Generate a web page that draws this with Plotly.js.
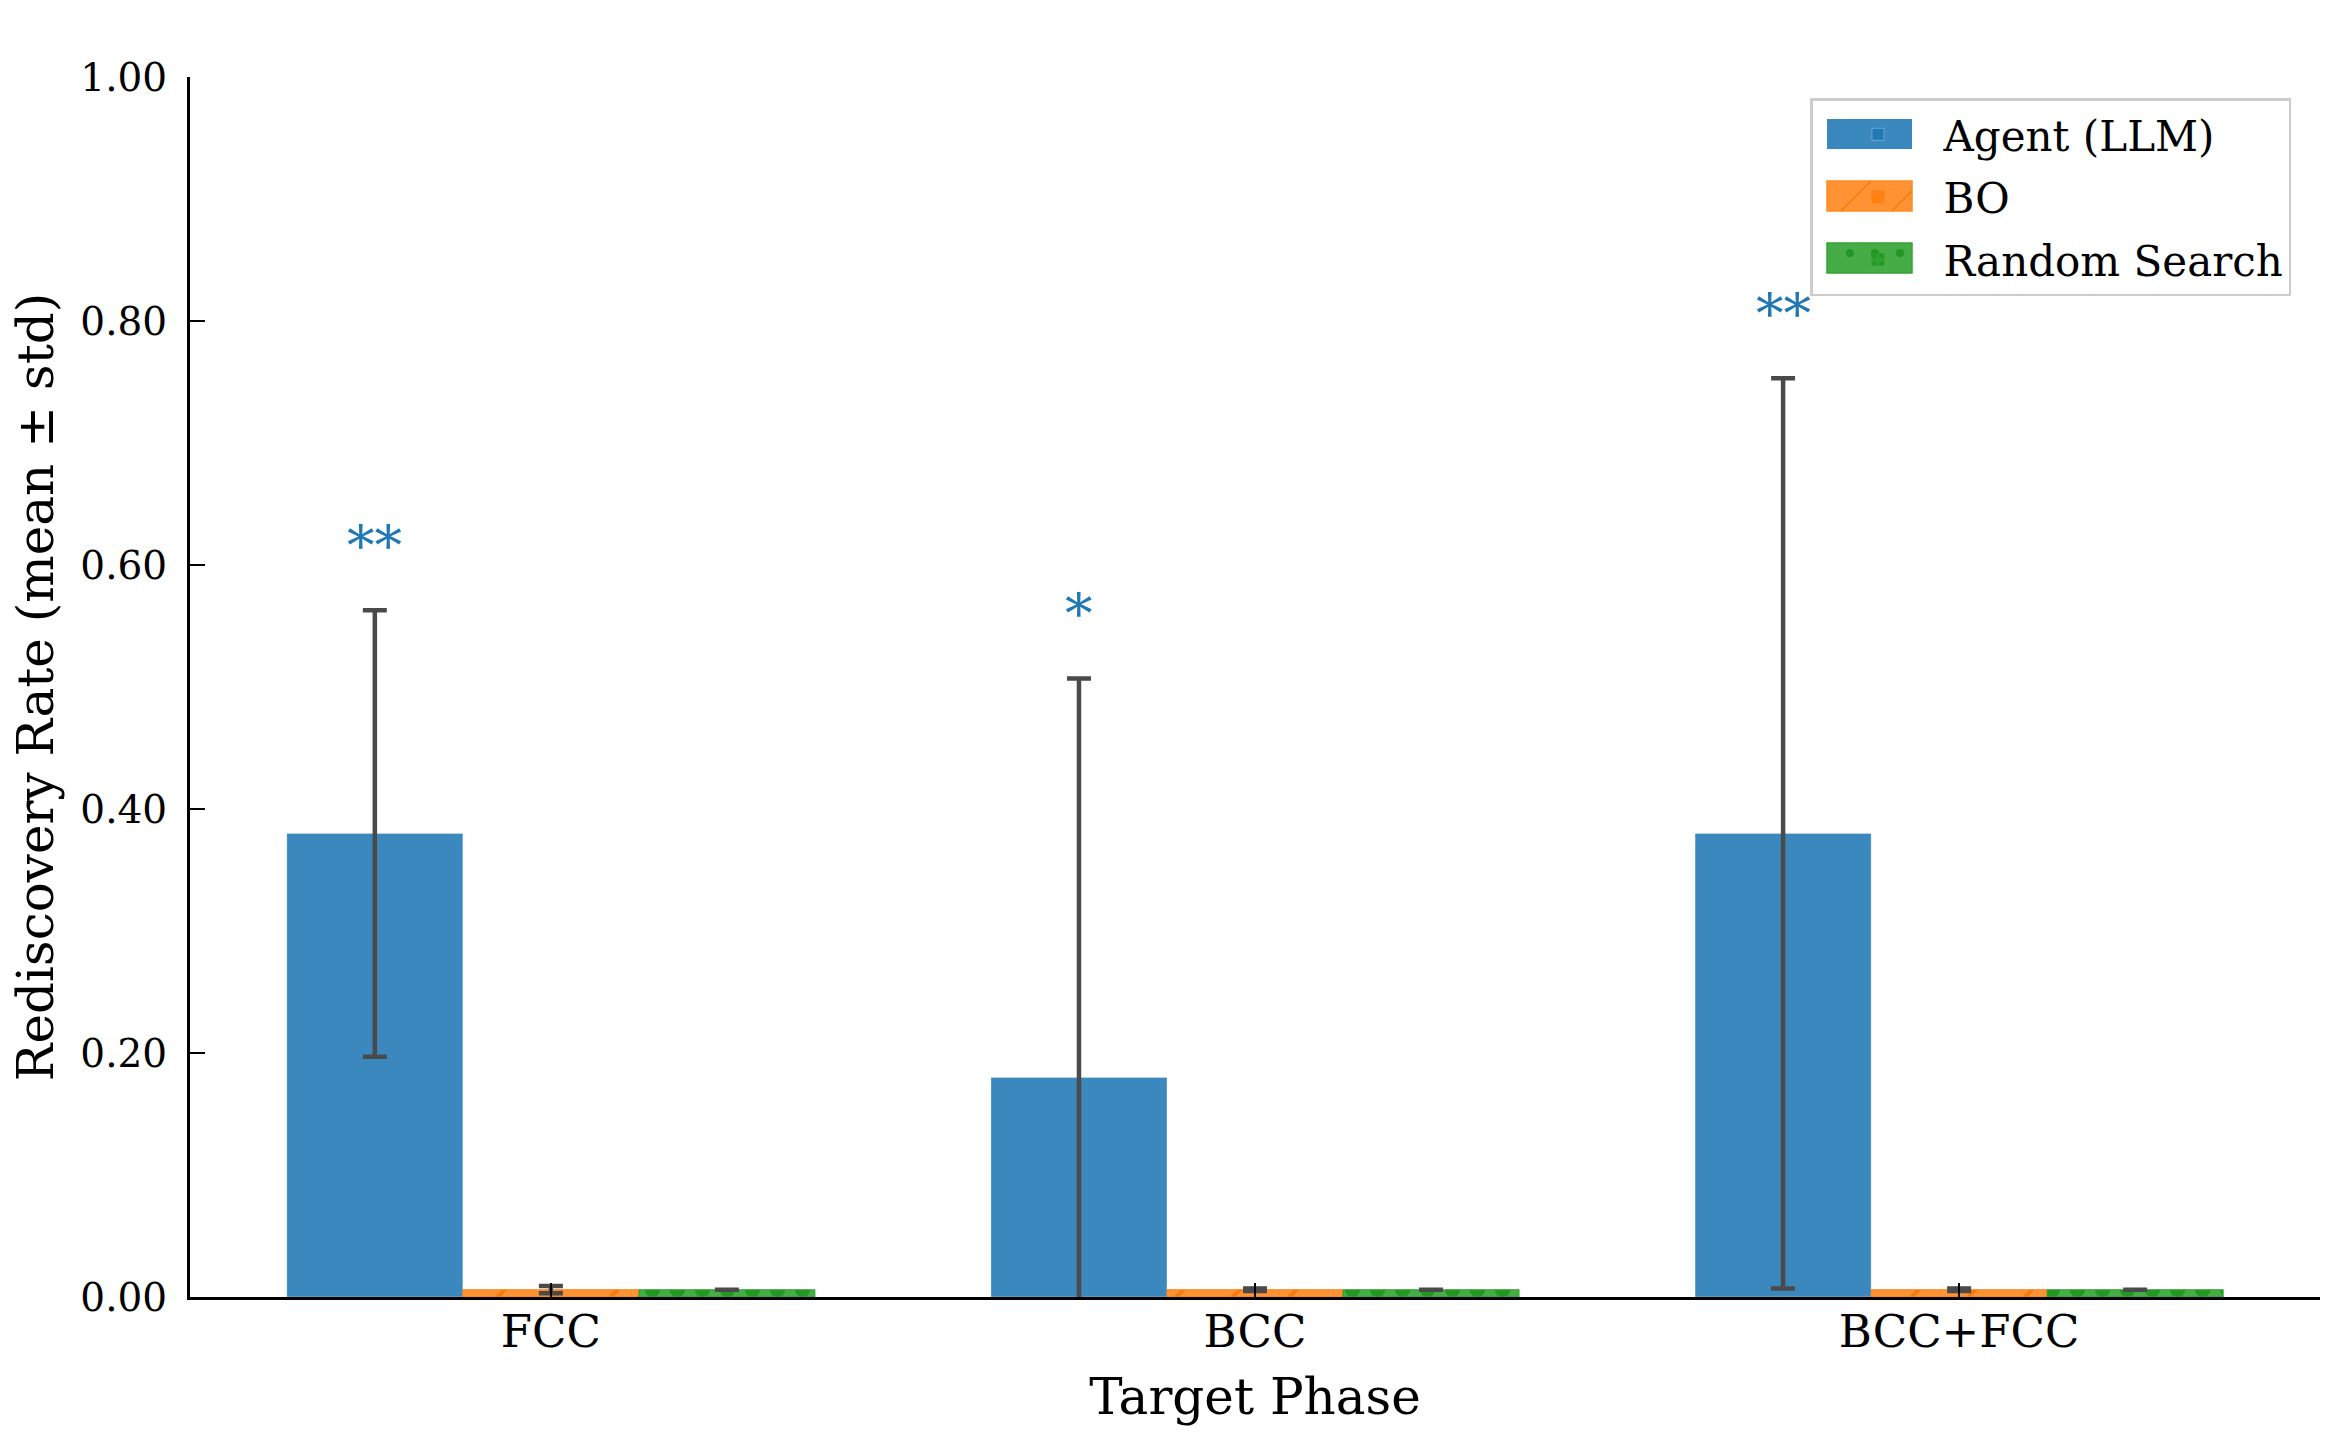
<!DOCTYPE html>
<html>
<head>
<meta charset="utf-8">
<script src="https://cdn.plot.ly/plotly-3.0.1.min.js"></script>
<style>html,body{margin:0;padding:0;background:#fff;}#chart{width:2333px;height:1456px;}</style>
</head>
<body>
<div id="chart"></div>
<script>
// ---- data ----
const categories = ['FCC', 'BCC', 'BCC+FCC'];
const agentMean = [0.38, 0.18, 0.38];
const agentStd = [0.183, 0.327, 0.373];
const boMean = [0.006, 0.006, 0.006];
const boStd = [0.003, 0.001, 0.001];
const randMean = [0.006, 0.006, 0.006];
const randStd = [0, 0, 0];
const sigLabels = ['**', '*', '**'];
const seriesNames = ['Agent (LLM)', 'BO', 'Random Search'];

// ---- style ----
const FONT = 'DejaVu Serif, Liberation Serif, serif';
const W = 2333, H = 1456;
const M = {l: 190, r: 13, t: 77, b: 159};
const PW = W - M.l - M.r, PH = H - M.t - M.b;
const px = (x) => (x - M.l) / PW;          // pixel -> paper x
const py = (y) => (H - M.b - y) / PH;      // pixel -> paper y

const errStyle = (arr) => ({type: 'data', array: arr, visible: true, color: '#4a4a4a', thickness: 4.5, width: 12});
const colors = ['rgba(31,119,180,0.88)', 'rgba(255,127,14,0.85)', 'rgba(44,160,44,0.88)'];

const traces = [
  {type: 'bar', name: seriesNames[0], x: categories, y: agentMean, legendgroup: 'a',
   marker: {color: colors[0], line: {color: 'rgba(255,255,255,0.3)', width: 1}}, error_y: errStyle(agentStd)},
  {type: 'bar', name: seriesNames[1], x: categories, y: boMean, legendgroup: 'b',
   marker: {color: colors[1], line: {color: 'rgba(255,127,14,0.9)', width: 1},
            pattern: {shape: '/', fillmode: 'overlay', fgcolor: '#f57a0c', fgopacity: 1, size: 40, solidity: 0.1}},
   error_y: errStyle(boStd)},
  {type: 'bar', name: seriesNames[2], x: categories, y: randMean, legendgroup: 'c',
   marker: {color: colors[2], line: {color: 'rgba(44,160,44,0.9)', width: 1},
            pattern: {shape: '.', fillmode: 'overlay', fgcolor: '#239623', fgopacity: 1, size: 25, solidity: 0.3}},
   error_y: errStyle(randStd)}
];

const annotations = categories.map((c, i) => ({
  x: i - 0.25, y: agentMean[i] + agentStd[i] + 0.025,
  xref: 'x', yref: 'y', text: sigLabels[i], showarrow: false,
  yanchor: 'bottom', xanchor: 'center',
  font: {family: FONT, size: 55, color: '#1f77b4'}
}));

// legend swatches (wide rectangles like the reference)
const swX0 = 1827, swX1 = 1912;
const rowY = [134, 196, 258];
const swH = 30;
const shapes = [];
rowY.forEach((y, i) => {
  shapes.push({type: 'rect', xref: 'paper', yref: 'paper', layer: 'above',
    x0: px(swX0), x1: px(swX1), y0: py(y + swH / 2), y1: py(y - swH / 2),
    fillcolor: colors[i], line: {width: i === 0 ? 0 : 1.5, color: i === 1 ? '#ff8a22' : '#36a336'}});
});
// hatch lines on BO swatch
[[1841, 1871], [1892, 1912]].forEach(([a, b]) => {
  shapes.push({type: 'line', xref: 'paper', yref: 'paper', layer: 'above',
    x0: px(a), y0: py(rowY[1] + swH / 2), x1: px(b), y1: py(rowY[1] + swH / 2 - (b - a)),
    line: {color: '#f57a0c', width: 1.5}});
});
// dots on Random swatch
[1850, 1875, 1900].forEach((cx) => {
  shapes.push({type: 'circle', xref: 'paper', yref: 'paper', layer: 'above',
    x0: px(cx - 4), x1: px(cx + 4), y0: py(rowY[2] - 9), y1: py(rowY[2] - 1),
    fillcolor: '#239623', line: {width: 0}});
});

const layout = {
  width: W, height: H,
  margin: M,
  paper_bgcolor: '#ffffff', plot_bgcolor: '#ffffff',
  font: {family: FONT, color: '#000', size: 39},
  barmode: 'group', bargap: 0.25, bargroupgap: 0,
  showlegend: true,
  legend: {
    x: px(1810), y: py(98), xanchor: 'left', yanchor: 'top',
    bgcolor: 'rgba(255,255,255,0)', bordercolor: '#cccccc', borderwidth: 2.5,
    font: {family: FONT, size: 42, color: '#000'},
    itemwidth: 121, traceorder: 'grouped', tracegroupgap: 5
  },
  xaxis: {
    type: 'category', range: [-0.5125, 2.5125],
    showline: true, linecolor: '#000', linewidth: 3, mirror: false,
    ticks: 'inside', ticklen: 14, tickwidth: 2.5, tickcolor: '#000',
    showgrid: false, zeroline: false,
    tickfont: {family: FONT, size: 45, color: '#000'},
    ticklabelstandoff: -7,
    title: {text: 'Target Phase', font: {family: FONT, size: 50, color: '#000'}, standoff: 22}
  },
  yaxis: {
    range: [0, 1], dtick: 0.2, tick0: 0, tickformat: '.2f',
    showline: true, linecolor: '#000', linewidth: 3, mirror: false,
    ticks: 'inside', ticklen: 15, tickwidth: 2.5, tickcolor: '#000',
    showgrid: false, zeroline: false,
    tickfont: {family: FONT, size: 39, color: '#000'},
    ticklabelstandoff: 12,
    title: {text: 'Rediscovery Rate (mean ± std)', font: {family: FONT, size: 50, color: '#000'}, standoff: 11}
  },
  annotations: annotations,
  shapes: shapes
};

Plotly.newPlot('chart', traces, layout, {displayModeBar: false, staticPlot: true});
</script>
</body>
</html>
